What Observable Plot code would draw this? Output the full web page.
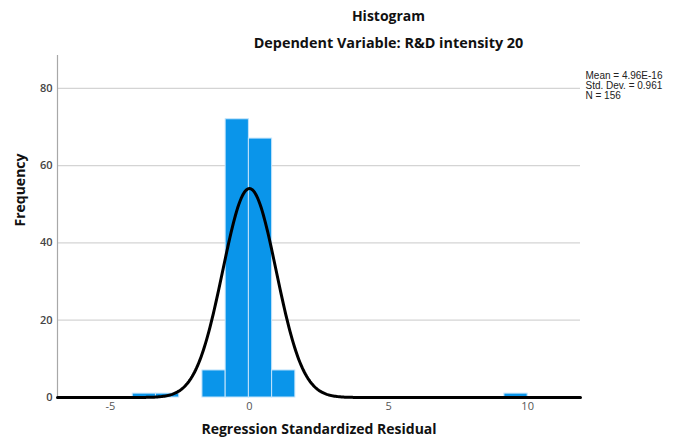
<!DOCTYPE html>
<html>
<head>
<meta charset="utf-8">
<script src="https://cdn.jsdelivr.net/npm/d3@7"></script>
<script src="https://cdn.jsdelivr.net/npm/@observablehq/plot@0.6"></script>
<style>
  html, body { margin: 0; padding: 0; background: #fff; }
  #wrap { width: 691px; height: 448px; position: relative; font-family: "Open Sans", sans-serif; }
  #head { height: 55px; position: relative; }
  .t { position: absolute; left: 0; width: 691px; text-align: center; font-weight: bold; font-size: 14px; color: #111; }
</style>
</head>
<body>
<div id="wrap">
  <div id="head">
    <div class="t" id="title" style="top:6px; padding-left:86px; box-sizing:border-box;"></div>
    <div class="t" id="subtitle" style="top:33px; padding-left:86px; box-sizing:border-box; font-size:14.4px;"></div>
  </div>
  <div id="chart"></div>
</div>
<script>
// ---- data ----
const chartTitle = "Histogram";
const chartSubtitle = "Dependent Variable: R&D intensity 20";
const xLabel = "Regression Standardized Residual";
const yLabel = "Frequency";
const binStarts = [-4.195, -3.36, -1.69, -0.855, -0.02, 0.815, 9.165];
const binWidth = 0.835;
const counts = [1, 1, 7, 72, 67, 7, 1];
const statMean = 4.96e-16;
const statSD = 0.961;
const statN = 156;
const statLines = ["Mean = 4.96E-16", "Std. Dev. = 0.961", "N = 156"];
const xTicks = [-5, 0, 5, 10];
const yTicks = [0, 20, 40, 60, 80];
const xDomain = [-6.9, 11.9];
const yDomain = [0, 88.5];

document.getElementById("title").textContent = chartTitle;
document.getElementById("subtitle").textContent = chartSubtitle;

const bars = binStarts.map((s, i) => ({x1: s, x2: s + binWidth, count: counts[i]}));

// normal curve defined by the stated mean / std. dev. / N scaled to bin width
const curve = d3.range(xDomain[0], xDomain[1] + 1e-9, 0.04).map(x => ({
  x,
  y: statN * binWidth * Math.exp(-0.5 * ((x - statMean) / statSD) ** 2) / (statSD * Math.sqrt(2 * Math.PI))
}));

const chart = Plot.plot({
  width: 691,
  height: 393,
  marginTop: 0,
  marginBottom: 51,
  marginLeft: 57,
  marginRight: 111,
  style: {fontFamily: "Open Sans, sans-serif", background: "#fff"},
  x: {domain: xDomain, ticks: xTicks},
  y: {domain: yDomain, ticks: yTicks},
  marks: [
    Plot.gridY(yTicks.filter(d => d > 0), {stroke: "#d4d4d4", strokeOpacity: 1, strokeWidth: 1.2}),
    Plot.ruleX([xDomain[0]], {stroke: "#a8a8a8", strokeWidth: 1.2}),
    Plot.rectY(bars, {x1: "x1", x2: "x2", y: "count", fill: "#0a95ea", stroke: "#c4e4fb", strokeWidth: 1}),
    Plot.line(curve, {x: "x", y: "y", stroke: "#000", strokeWidth: 3}),
    Plot.axisX(xTicks, {tickSize: 0, tickPadding: 5, fontSize: 11, fill: "#555", tickFormat: d => String(d), label: null}),
    Plot.axisY(yTicks, {tickSize: 0, tickPadding: 5, fontSize: 11, fill: "#444", fontWeight: 600, label: null}),
    Plot.text([xLabel], {frameAnchor: "bottom", dy: 36, fontSize: 14, fontWeight: "bold", fill: "#111"}),
    Plot.text([yLabel], {frameAnchor: "left", dx: -37, rotate: -90, fontSize: 14, fontWeight: "bold", fill: "#111"}),
    Plot.text([statLines.join("\n")], {frameAnchor: "top-right", dx: 5, dy: 16, textAnchor: "start", lineAnchor: "top", lineHeight: 1.0, fontSize: 10, fontFamily: "Liberation Sans, Arial, sans-serif", fill: "#222"})
  ]
});
document.getElementById("chart").appendChild(chart);
</script>
</body>
</html>
